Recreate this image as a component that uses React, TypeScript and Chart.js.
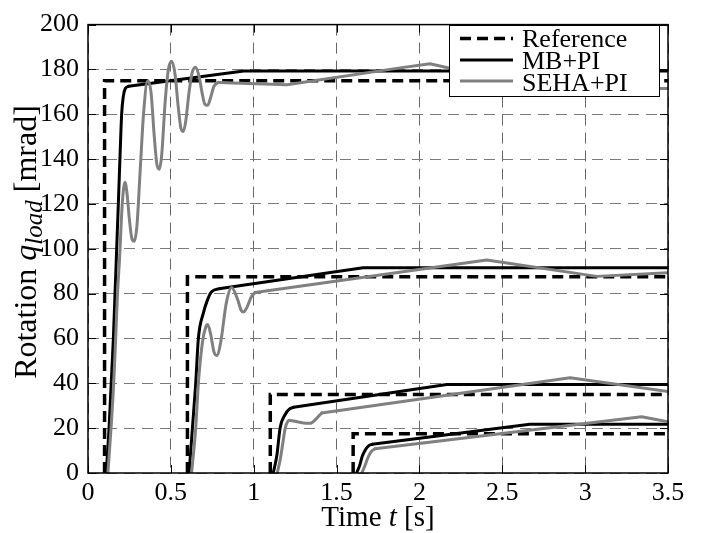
import React, { useEffect, useRef } from "react";
import { Chart, registerables } from "chart.js";

Chart.register(...registerables);

const X_TICKS = [0, 0.5, 1, 1.5, 2, 2.5, 3, 3.5];
const Y_TICKS = [0, 20, 40, 60, 80, 100, 120, 140, 160, 180, 200];

const STEP_TIMES = [0.1, 0.6, 1.1, 1.6];
const REF_LEVELS = [175, 87.5, 35, 17.5];
const T_END = 3.5;

// MB+PI: transient part (smooth) and ramp part (straight)
const MB1_T = [0.11, 0.127, 0.14, 0.153, 0.163, 0.173, 0.183, 0.195, 0.203, 0.213, 0.225, 0.245];
const MB1_V = [0, 20, 40, 60, 80, 100, 120, 145, 160, 168, 171.5, 172.5];
const MB1R_T = [0.245, 0.94, 3.5];
const MB1R_V = [172.5, 179.3, 179.3];
const MB2_T = [0.61, 0.63, 0.65, 0.666, 0.696, 0.72, 0.746, 0.8];
const MB2_V = [0, 20, 40, 60, 71.3, 77, 80.8, 82.3];
const MB2R_T = [0.8, 1.66, 3.5];
const MB2R_V = [82.3, 91.5, 91.5];
const MB3_T = [1.118, 1.14, 1.159, 1.19, 1.215, 1.24];
const MB3_V = [0, 8, 20, 26.1, 28.5, 29.3];
const MB3R_T = [1.24, 2.165, 3.5];
const MB3R_V = [29.3, 39.5, 39.5];
const MB4_T = [1.621, 1.64, 1.655, 1.675, 1.695, 1.715];
const MB4_V = [0, 3.5, 7.5, 10.5, 12.2, 12.8];
const MB4R_T = [1.715, 2.667, 3.5];
const MB4R_V = [12.8, 21.7, 21.7];

// SEHA+PI
const SE1_T = [0.12, 0.139, 0.155, 0.167, 0.178, 0.19, 0.205, 0.215, 0.223, 0.235, 0.25, 0.265, 0.279, 0.295, 0.315, 0.335, 0.36, 0.38, 0.4, 0.415, 0.43, 0.445, 0.465, 0.485, 0.505, 0.525, 0.545, 0.56, 0.575, 0.59, 0.61, 0.63, 0.65, 0.67, 0.69, 0.705, 0.722, 0.74, 0.76, 0.786];
const SE1_V = [0, 20, 40, 60, 80, 95, 118, 127, 129.7, 125, 113, 104.5, 103.4, 110, 135, 160, 174.9, 170, 150, 138, 135.5, 142, 165, 180, 183.7, 178, 163, 154, 152.3, 157, 170, 179, 181, 177, 169, 164.5, 164, 167.5, 172.5, 174.2];
const SE1R_T = [0.786, 1.2, 1.883, 2.064, 2.75, 3.5];
const SE1R_V = [174.2, 173.2, 180.7, 182.5, 171, 171.5];
const SE2_T = [0.625, 0.65, 0.666, 0.69, 0.71, 0.722, 0.74, 0.76, 0.777, 0.8, 0.835, 0.867, 0.9, 0.925, 0.937, 0.96, 0.985, 1.008];
const SE2_V = [0, 20, 40, 58, 65, 66.2, 62, 54, 52.4, 58, 76, 82.7, 78, 72.5, 71.8, 74, 78.5, 80.5];
const SE2R_T = [1.008, 2.406, 3.07, 3.5];
const SE2R_V = [80.5, 95, 87.7, 89.3];
const SE3_T = [1.142, 1.16, 1.175, 1.19, 1.205, 1.215, 1.24, 1.3, 1.34, 1.375, 1.41];
const SE3_V = [0, 6, 13, 20, 23, 23.5, 23.2, 22.3, 22.2, 24, 26.8];
const SE3R_T = [1.41, 2.909, 3.5];
const SE3R_V = [26.8, 42.5, 36.3];
const SE4_T = [1.652, 1.67, 1.69, 1.71, 1.732];
const SE4_V = [0, 3, 7, 9.6, 10.8];
const SE4R_T = [1.732, 3.341, 3.5];
const SE4R_V = [10.8, 25.1, 22.9];

const MB_SETS = [[MB1_T, MB1_V], [MB2_T, MB2_V], [MB3_T, MB3_V], [MB4_T, MB4_V]];
const MB_RAMPS = [[MB1R_T, MB1R_V], [MB2R_T, MB2R_V], [MB3R_T, MB3R_V], [MB4R_T, MB4R_V]];
const SE_SETS = [[SE1_T, SE1_V], [SE2_T, SE2_V], [SE3_T, SE3_V], [SE4_T, SE4_V]];
const SE_RAMPS = [[SE1R_T, SE1R_V], [SE2R_T, SE2R_V], [SE3R_T, SE3R_V], [SE4R_T, SE4R_V]];

const LEGEND_LABELS = ["Reference", "MB+PI", "SEHA+PI"];

const FONT = "'Liberation Serif', 'Times New Roman', serif";
const GRAY = "#808080";
const REF_DASH = [11, 6];

const pts = (t: number[], v: number[]) => t.map((x, i) => ({ x, y: v[i] }));

const decorPlugin = {
  id: "decor",
  afterDraw(chart: any) {
    const { ctx, chartArea: a, scales } = chart;
    const xs = scales.x;
    const ys = scales.y;
    ctx.save();
    ctx.strokeStyle = "#000";
    ctx.lineWidth = 1;
    ctx.setLineDash([]);
    const TL = 8;
    X_TICKS.forEach((v) => {
      const p = Math.round(xs.getPixelForValue(v)) + 0.5;
      ctx.beginPath();
      ctx.moveTo(p, a.bottom);
      ctx.lineTo(p, a.bottom - TL);
      ctx.moveTo(p, a.top);
      ctx.lineTo(p, a.top + TL);
      ctx.stroke();
    });
    Y_TICKS.forEach((v) => {
      const p = Math.round(ys.getPixelForValue(v)) + 0.5;
      ctx.beginPath();
      ctx.moveTo(a.left, p);
      ctx.lineTo(a.left + TL, p);
      ctx.moveTo(a.right, p);
      ctx.lineTo(a.right - TL, p);
      ctx.stroke();
    });
    ctx.lineWidth = 1.5;
    ctx.strokeRect(a.left, a.top, a.right - a.left, a.bottom - a.top);

    // legend
    const lx = 449, ly = 25, lw = 210, lh = 71;
    ctx.fillStyle = "#fff";
    ctx.fillRect(lx, ly, lw, lh);
    ctx.lineWidth = 1;
    ctx.strokeStyle = "#000";
    ctx.strokeRect(lx + 0.5, ly + 0.5, lw, lh);
    const rowsY = [38.5, 60, 81];
    const baseY = [47, 68.5, 90.5];
    const styles = [
      { c: "#000", w: 3.5, d: REF_DASH },
      { c: "#000", w: 3, d: [] as number[] },
      { c: GRAY, w: 3, d: [] as number[] },
    ];
    LEGEND_LABELS.forEach((lab, i) => {
      ctx.beginPath();
      ctx.strokeStyle = styles[i].c;
      ctx.lineWidth = styles[i].w;
      ctx.setLineDash(styles[i].d);
      ctx.moveTo(460, rowsY[i]);
      ctx.lineTo(513, rowsY[i]);
      ctx.stroke();
      ctx.setLineDash([]);
      ctx.fillStyle = "#000";
      ctx.font = `26px ${FONT}`;
      ctx.textAlign = "left";
      ctx.textBaseline = "alphabetic";
      ctx.fillText(lab, 522, baseY[i]);
    });

    // x title
    const cx = (a.left + a.right) / 2;
    const parts = [
      { t: "Time ", f: `29px ${FONT}` },
      { t: "t", f: `italic 29px ${FONT}` },
      { t: " [s]", f: `29px ${FONT}` },
    ];
    let total = 0;
    parts.forEach((p) => { ctx.font = p.f; total += ctx.measureText(p.t).width; });
    let x = cx - total / 2;
    ctx.fillStyle = "#000";
    parts.forEach((p) => {
      ctx.font = p.f;
      ctx.fillText(p.t, x, 526);
      x += ctx.measureText(p.t).width;
    });

    // y title
    const cy = 242;
    const yparts = [
      { t: "Rotation ", f: `32px ${FONT}`, off: 0 },
      { t: "q", f: `italic 32px ${FONT}`, off: 0 },
      { t: "load", f: `italic 25px ${FONT}`, off: 6 },
      { t: " [mrad]", f: `32px ${FONT}`, off: 0 },
    ];
    let ytot = 0;
    yparts.forEach((p) => { ctx.font = p.f; ytot += ctx.measureText(p.t).width; });
    ctx.translate(36, cy);
    ctx.rotate(-Math.PI / 2);
    let yx = -ytot / 2;
    yparts.forEach((p) => {
      ctx.font = p.f;
      ctx.fillText(p.t, yx, p.off);
      yx += ctx.measureText(p.t).width;
    });
    ctx.restore();
  },
};

export default function App() {
  const ref = useRef<HTMLCanvasElement | null>(null);

  useEffect(() => {
    document.body.style.margin = "0";
    const canvas = ref.current;
    if (!canvas) return;

    const datasets: any[] = [];
    const addLine = (label: string, t: number[], v: number[], color: string, order: number, smooth: boolean) => {
      datasets.push({
        label,
        data: pts(t, v),
        borderColor: color,
        borderWidth: 3,
        pointRadius: 0,
        borderCapStyle: "round",
        borderJoinStyle: "round",
        cubicInterpolationMode: smooth ? "monotone" : "default",
        tension: 0,
        order,
      });
    };
    SE_SETS.forEach(([t, v], i) => addLine("SEHA+PI " + (i + 1), t, v, GRAY, 0, true));
    SE_RAMPS.forEach(([t, v], i) => addLine("SEHA+PI ramp " + (i + 1), t, v, GRAY, 0, false));
    MB_SETS.forEach(([t, v], i) => addLine("MB+PI " + (i + 1), t, v, "#000", 1, true));
    MB_RAMPS.forEach(([t, v], i) => addLine("MB+PI ramp " + (i + 1), t, v, "#000", 1, false));
    STEP_TIMES.forEach((t0, i) => {
      datasets.push({
        label: "Reference " + (i + 1),
        data: [
          { x: t0, y: 0 },
          { x: t0, y: REF_LEVELS[i] },
          { x: T_END, y: REF_LEVELS[i] },
        ],
        borderColor: "#000",
        borderWidth: 3.5,
        borderDash: REF_DASH,
        pointRadius: 0,
        tension: 0,
        order: 2,
      });
    });

    const chart = new Chart(canvas, {
      type: "line",
      data: { datasets },
      options: {
        animation: false,
        responsive: false,
        devicePixelRatio: 1,
        layout: { padding: { left: 0, top: 16, right: 33, bottom: 0 } },
        plugins: { legend: { display: false }, tooltip: { enabled: false } },
        scales: {
          x: {
            type: "linear",
            min: 0,
            max: 3.5,
            afterBuildTicks: (s: any) => { s.ticks = X_TICKS.map((value) => ({ value })); },
            afterFit: (s: any) => { s.height = 60; },
            grid: { color: "#686868", lineWidth: 1, drawTicks: false },
            border: { display: false, dash: [11, 7] },
            ticks: {
              font: { family: FONT, size: 26 },
              color: "#000",
              padding: 5,
              maxRotation: 0,
              autoSkip: false,
              callback: (v: any) => String(v),
            },
          },
          y: {
            type: "linear",
            min: 0,
            max: 200,
            afterBuildTicks: (s: any) => { s.ticks = Y_TICKS.map((value) => ({ value })); },
            afterFit: (s: any) => { s.width = 88; },
            grid: { color: "#7a7a7a", lineWidth: 1, drawTicks: false },
            border: { display: false, dash: [11, 7] },
            ticks: {
              font: { family: FONT, size: 26 },
              color: "#000",
              padding: 9,
              autoSkip: false,
              callback: (v: any) => String(v),
            },
          },
        },
      },
      plugins: [decorPlugin],
    });
    return () => chart.destroy();
  }, []);

  return (
    <div style={{ width: 701, height: 533 }}>
      <canvas ref={ref} width={701} height={533} style={{ display: "block", width: 701, height: 533 }} />
    </div>
  );
}
